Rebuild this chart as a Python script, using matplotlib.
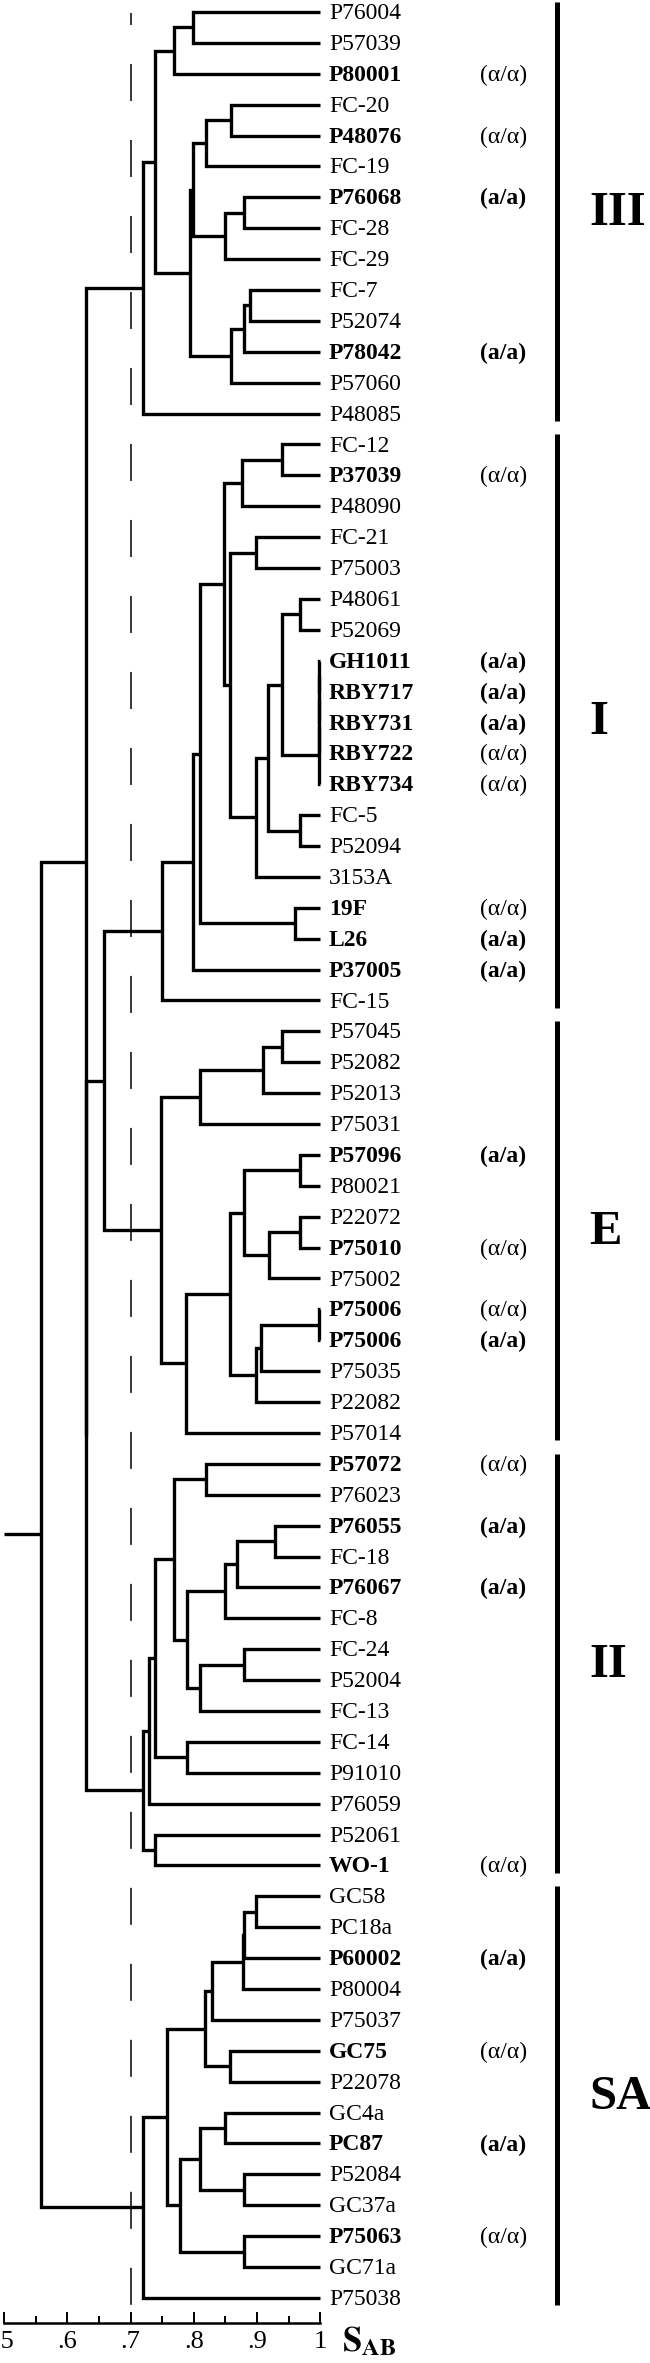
import matplotlib.pyplot as plt

plt.rcParams['font.family'] = ['Liberation Serif', 'DejaVu Serif']
plt.rcParams['mathtext.fontset'] = 'stix'

# leaf order, top to bottom
leaves = ["P76004", "P57039", "P80001", "FC-20", "P48076", "FC-19", "P76068", "FC-28",
          "FC-29", "FC-7", "P52074", "P78042", "P57060", "P48085",
          "FC-12", "P37039", "P48090", "FC-21", "P75003", "P48061", "P52069", "GH1011",
          "RBY717", "RBY731", "RBY722", "RBY734", "FC-5", "P52094", "3153A", "19F", "L26",
          "P37005", "FC-15",
          "P57045", "P52082", "P52013", "P75031", "P57096", "P80021", "P22072", "P75010",
          "P75002", "P75006", "P75006", "P75035", "P22082", "P57014",
          "P57072", "P76023", "P76055", "FC-18", "P76067", "FC-8", "FC-24", "P52004",
          "FC-13", "FC-14", "P91010", "P76059", "P52061", "WO-1",
          "GC58", "PC18a", "P60002", "P80004", "P75037", "GC75", "P22078", "GC4a", "PC87",
          "P52084", "GC37a", "P75063", "GC71a", "P75038"]

# mating type for the typed strains (shown in bold)
genotype = {2: "(α/α)", 4: "(α/α)", 6: "(a/a)", 11: "(a/a)", 15: "(α/α)",
            21: "(a/a)", 22: "(a/a)", 23: "(a/a)", 24: "(α/α)", 25: "(α/α)",
            29: "(α/α)", 30: "(a/a)", 31: "(a/a)", 37: "(a/a)", 40: "(α/α)",
            42: "(α/α)", 43: "(a/a)", 47: "(α/α)", 49: "(a/a)", 51: "(a/a)",
            60: "(α/α)", 63: "(a/a)", 66: "(α/α)", 69: "(a/a)", 72: "(α/α)"}

# merges: (node, child a, child b, S_AB); ints are leaf indices
merges = [
    ("a1", 0, 1, 0.799), ("a2", "a1", 2, 0.769), ("a3", 3, 4, 0.859), ("a4", "a3", 5, 0.819),
    ("a5", 6, 7, 0.879), ("a6", "a5", 8, 0.850), ("a7", "a4", "a6", 0.799),
    ("a8", 9, 10, 0.889), ("a9", "a8", 11, 0.879), ("a10", "a9", 12, 0.859),
    ("a11", "a7", "a10", 0.794), ("a12", "a2", "a11", 0.739), ("III", "a12", 13, 0.720),

    ("b1", 14, 15, 0.940), ("b2", "b1", 16, 0.877), ("b3", 17, 18, 0.899), ("b4", 19, 20, 0.968),
    ("r1", 21, 22, 0.998), ("r2", "r1", 23, 0.998), ("r3", "r2", 24, 0.998), ("r4", "r3", 25, 0.998),
    ("b5", "b4", "r4", 0.940), ("b6", 26, 27, 0.968), ("b7", "b5", "b6", 0.918),
    ("b8", "b7", 28, 0.898), ("b9", "b3", "b8", 0.858), ("b10", "b2", "b9", 0.848),
    ("b11", 29, 30, 0.960), ("b12", "b10", "b11", 0.810), ("b13", "b12", 31, 0.798),
    ("I", "b13", 32, 0.749),

    ("c1", 33, 34, 0.940), ("c2", "c1", 35, 0.910), ("c3", "c2", 36, 0.810), ("c4", 37, 38, 0.968),
    ("c5", 39, 40, 0.968), ("c6", "c5", 41, 0.919), ("c7", "c4", "c6", 0.879),
    ("c8", 42, 43, 0.998), ("c9", "c8", 44, 0.907), ("c10", "c9", 45, 0.898),
    ("c11", "c7", "c10", 0.858), ("c12", "c11", 46, 0.788), ("E", "c3", "c12", 0.748),
    ("IE", "I", "E", 0.658),

    ("d1", 47, 48, 0.819), ("d2", 49, 50, 0.929), ("d3", "d2", 51, 0.869), ("d4", "d3", 52, 0.850),
    ("d5", 53, 54, 0.879), ("d6", "d5", 55, 0.810), ("d7", "d4", "d6", 0.789),
    ("d8", "d1", "d7", 0.768), ("d9", 56, 57, 0.790), ("d10", "d8", "d9", 0.739),
    ("d11", "d10", 58, 0.729), ("d12", 59, 60, 0.739), ("II", "d11", "d12", 0.719),
    ("N1", "IE", "II", 0.630), ("N2", "III", "N1", 0.630),

    ("e1", 61, 62, 0.898), ("e2", "e1", 63, 0.879), ("e3", "e2", 64, 0.878), ("e4", "e3", 65, 0.829),
    ("e5", 66, 67, 0.857), ("e6", "e4", "e5", 0.818), ("e7", 68, 69, 0.850), ("e8", 70, 71, 0.879),
    ("e9", "e7", "e8", 0.810), ("e10", 72, 73, 0.879), ("e11", "e9", "e10", 0.778),
    ("e12", "e6", "e11", 0.758), ("SA", "e12", 74, 0.720),
    ("root", "N2", "SA", 0.559),
]

group_names = ["III", "I", "E", "II", "SA"]
group_first = [0, 14, 33, 47, 61]
group_last = [13, 32, 46, 60, 74]

ticks = [0.5, 0.6, 0.7, 0.8, 0.9, 1.0]
tick_labels = [".5", ".6", ".7", ".8", ".9", "1"]
cutoff = 0.70

# ---- layout (pixels of a 650 x 2363 figure) ----
W, H = 650, 2363
px_per_s = 632.0
x0_px = 4.2            # where S = 0.5 sits
row = 30.89            # pixels per leaf
y0_px = 12.0           # first leaf


def sx(px):
    return 0.5 + (px - x0_px) / px_per_s


def ly(py):
    return (py - y0_px) / row


fig = plt.figure(figsize=(W / 100, H / 100), dpi=100)
ax = fig.add_axes([0, 0, 1, 1])
ax.set_xlim(sx(0), sx(W))
ax.set_ylim(ly(H), ly(0))
ax.axis("off")

# node positions
pos_x = {i: 1.0 for i in range(len(leaves))}
pos_y = {i: float(i) for i in range(len(leaves))}
for node, a, b, s in merges:
    pos_x[node] = s
    pos_y[node] = (pos_y[a] + pos_y[b]) / 2
    ax.plot([pos_x[a], s, s, pos_x[b]], [pos_y[a], pos_y[a], pos_y[b], pos_y[b]],
            color="black", lw=2.4, solid_joinstyle="miter", solid_capstyle="butt")

# root stub
ax.plot([0.5, pos_x["root"]], [pos_y["root"]] * 2, color="black", lw=2.4,
        solid_capstyle="butt")

# cutoff line
lw_d = 1.1
ax.plot([cutoff, cutoff], [ly(13), ly(2320)], color="black", lw=lw_d,
        linestyle=(25 / 1.389 / lw_d, (37 / 1.389 / lw_d, 39 / 1.389 / lw_d)))

# labels
for i, name in enumerate(leaves):
    g = genotype.get(i, "")
    ax.text(sx(329), i + 0.05, name, fontsize=17, ha="left", va="center",
            fontweight="bold" if g else "normal")
    if g:
        ax.text(sx(480), i + 0.05, g, fontsize=17, ha="left", va="center",
                fontweight="bold" if g == "(a/a)" else "normal")

for name, f, l in zip(group_names, group_first, group_last):
    ax.plot([sx(557), sx(557)], [f - 0.33, l + 0.23], color="black", lw=3.6,
            solid_capstyle="butt")
    ax.text(sx(589), (f + l) / 2, name, fontsize=35, fontweight="bold",
            ha="left", va="center")

# scale axis
ax2 = fig.add_axes([x0_px / W, (H - 2323) / H, px_per_s * 0.5 / W, 0.0001])
ax2.set_xlim(0.5, 1.0)
ax2.set_xticks(ticks)
ax2.set_xticklabels(tick_labels, fontsize=19)
ax2.set_xticks([0.55, 0.65, 0.75, 0.85, 0.95], minor=True)
ax2.set_yticks([])
for sp in ["top", "left", "right"]:
    ax2.spines[sp].set_visible(False)
ax2.spines["bottom"].set_linewidth(1.8)
ax2.tick_params(axis="x", which="major", direction="in", length=8, width=1.4, pad=6)
ax2.tick_params(axis="x", which="minor", direction="in", length=5, width=1.4)
ax2.patch.set_visible(False)

fig.text(342 / W, 1 - 2351 / H, r"$\mathbf{S}_{\mathbf{AB}}$", fontsize=25,
         ha="left", va="baseline")

fig.savefig("out.png", dpi=100)
